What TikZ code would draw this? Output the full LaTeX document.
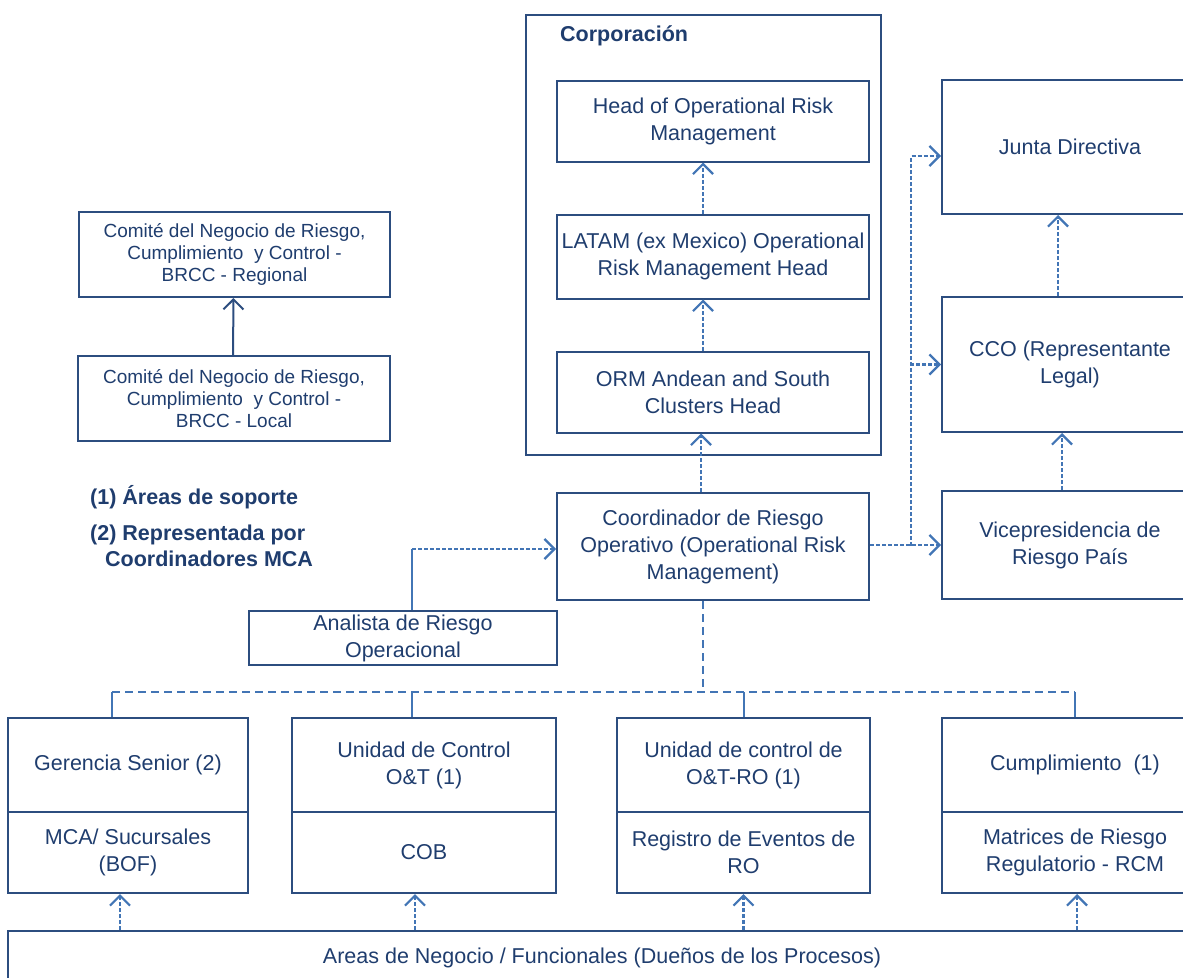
\documentclass[tikz,border=0pt]{standalone}
\usepackage{fontspec}
\setmainfont{Liberation Sans}
\usepackage{tikz}
\usetikzlibrary{arrows.meta}
\definecolor{orgtext}{HTML}{1F3D6E}
\definecolor{orgline}{HTML}{2C4D7F}
\definecolor{orgarrow}{HTML}{4275B5}
\tikzstyle{orgbox} = [draw=orgline, line width=2pt, rectangle, inner sep=2pt,
align=center, text=orgtext, font=\fontsize{21.5}{27}\selectfont]
\tikzstyle{smallbox} = [orgbox, font=\fontsize{19}{22}\selectfont]
\tikzstyle{notetext} = [text=orgtext, font=\bfseries\fontsize{21.5}{26}\selectfont, inner sep=0pt, align=left]
\tikzstyle{dashlink} = [draw=orgarrow, line width=2.2pt, dash pattern=on 4pt off 2pt,
-{Straight Barb[length=10pt,width=20pt,line width=2.2pt]}]
\tikzstyle{solidlink} = [draw=orgline, line width=2pt, -{Straight Barb[length=10pt,width=20pt,line width=2pt]}]
\tikzstyle{busline} = [draw=orgarrow, line width=2pt, dash pattern=on 8pt off 5pt]
\tikzstyle{stubline} = [draw=orgarrow, line width=2pt]

\begin{document}
\begin{tikzpicture}[x=1pt, y=-1pt]
		\useasboundingbox (0,0) rectangle (1183,977);
		% corporacion
		\node [orgbox, line width=2.6pt, minimum width=355pt, minimum height=440pt] (corp) at (703.5,235) {};
		\node [notetext, anchor=west] (corptitle) at (560,36) {Corporación};
		\node [orgbox, minimum width=312pt, minimum height=81pt] (head) at (713,121) {Head of Operational Risk\\Management};
		\node [orgbox, minimum width=312pt, minimum height=84pt] (latam) at (713,256.5) {LATAM (ex Mexico) Operational\\Risk Management Head};
		\node [orgbox, minimum width=312pt, minimum height=81pt] (orm) at (713,392) {ORM Andean and South\\Clusters Head};
		\node [orgbox, minimum width=312pt, minimum height=107pt] (coord) at (713,546.5) {Coordinador de Riesgo\\Operativo (Operational Risk\\Management)};
		\node [orgbox, minimum width=308pt, minimum height=54pt] (analista) at (403,638) {Analista de Riesgo\\Operacional};
		% pais
		\node [orgbox, minimum width=256pt, minimum height=134pt] (junta) at (1070,147) {Junta Directiva};
		\node [orgbox, minimum width=256pt, minimum height=135pt] (cco) at (1070,364.5) {CCO (Representante\\Legal)};
		\node [orgbox, minimum width=256pt, minimum height=108pt] (vice) at (1070,545) {Vicepresidencia de\\Riesgo País};
		% comites
		\node [smallbox, minimum width=311pt, minimum height=85pt] (regional) at (234.5,254.5) {Comité del Negocio de Riesgo,\\Cumplimiento~ y Control -\\BRCC - Regional};
		\node [smallbox, minimum width=312pt, minimum height=85pt] (local) at (234,398.5) {Comité del Negocio de Riesgo,\\Cumplimiento~ y Control -\\BRCC - Local};
		\node [notetext, anchor=west] (note1) at (90,497) {(1) Áreas de soporte};
		\node [notetext, anchor=west] (note2) at (90,546) {(2) Representada por\\\hspace*{15pt}Coordinadores MCA};
		% unidades
		\node [orgbox, minimum width=240pt, minimum height=94pt] (ger) at (128,765) {Gerencia Senior (2)};
		\node [orgbox, minimum width=240pt, minimum height=81pt] (gerb) at (128,852.5) {MCA/ Sucursales\\(BOF)};
		\node [orgbox, minimum width=264pt, minimum height=94pt] (uc) at (424,765) {Unidad de Control\\O\&T (1)};
		\node [orgbox, minimum width=264pt, minimum height=81pt] (ucb) at (424,852.5) {COB};
		\node [orgbox, minimum width=253pt, minimum height=94pt] (ucro) at (743.5,765) {Unidad de control de\\O\&T-RO (1)};
		\node [orgbox, minimum width=253pt, minimum height=81pt] (ucrob) at (743.5,852.5) {Registro de Eventos de\\RO};
		\node [orgbox, minimum width=266pt, minimum height=94pt] (cump) at (1075,765) {Cumplimiento~ (1)};
		\node [orgbox, minimum width=266pt, minimum height=81pt] (cumpb) at (1075,852.5) {Matrices de Riesgo\\Regulatorio - RCM};
		\node [orgbox, minimum width=1188pt, minimum height=54pt] (areas) at (602,958) {Areas de Negocio / Funcionales (Dueños de los Procesos)};
		% conectores
		\draw [dashlink] ([xshift=-10pt]latam.north) -- ([xshift=-10pt]head.south);
		\draw [dashlink] ([xshift=-10pt]orm.north) -- ([xshift=-10pt]latam.south);
		\draw [dashlink] ([xshift=-12pt]coord.north) -- ([xshift=-12pt]orm.south);
		\draw [dashlink] ([xshift=-12pt]cco.north) -- ([xshift=-12pt]junta.south);
		\draw [dashlink] ([xshift=-8pt]vice.north) -- ([xshift=-8pt]cco.south);
		\draw [solidlink] ([xshift=-1pt]local.north) -- ([xshift=-1pt]regional.south);
		\coordinate (vbend) at (911,545.5);
		\draw [dashlink] (coord.east |- vice.west) -- (vice.west);
		\draw [dashlink] (vbend) |- ([yshift=-9pt]junta.west);
		\draw [dashlink] (vbend) |- (cco.west);
		\coordinate (abend) at ([xshift=9pt]analista.north |- 0,549);
		\draw [stubline] ([xshift=9pt]analista.north) -- (abend);
		\draw [dashlink] (abend) -- (coord.west |- abend);
		% bus
		\coordinate (bus) at ([xshift=-10pt]coord.south |- 0,692);
		\draw [busline] ([xshift=-10pt]coord.south) -- (bus);
		\draw [busline] ([xshift=-16pt]ger.north |- bus) -- (cump.north |- bus);
		\draw [stubline] ([xshift=-16pt]ger.north) -- ([xshift=-16pt]ger.north |- bus);
		\draw [stubline] ([xshift=-12pt]uc.north) -- ([xshift=-12pt]uc.north |- bus);
		\draw [stubline] (ucro.north) -- (ucro.north |- bus);
		\draw [stubline] (cump.north) -- (cump.north |- bus);
		\draw [dashlink] ([xshift=-8pt]gerb.south |- areas.north) -- ([xshift=-8pt]gerb.south);
		\draw [dashlink] ([xshift=-9pt]ucb.south |- areas.north) -- ([xshift=-9pt]ucb.south);
		\draw [dashlink] (ucrob.south |- areas.north) -- (ucrob.south);
		\draw [dashlink] ([xshift=2pt]cumpb.south |- areas.north) -- ([xshift=2pt]cumpb.south);
		\end{tikzpicture}
\end{document}
